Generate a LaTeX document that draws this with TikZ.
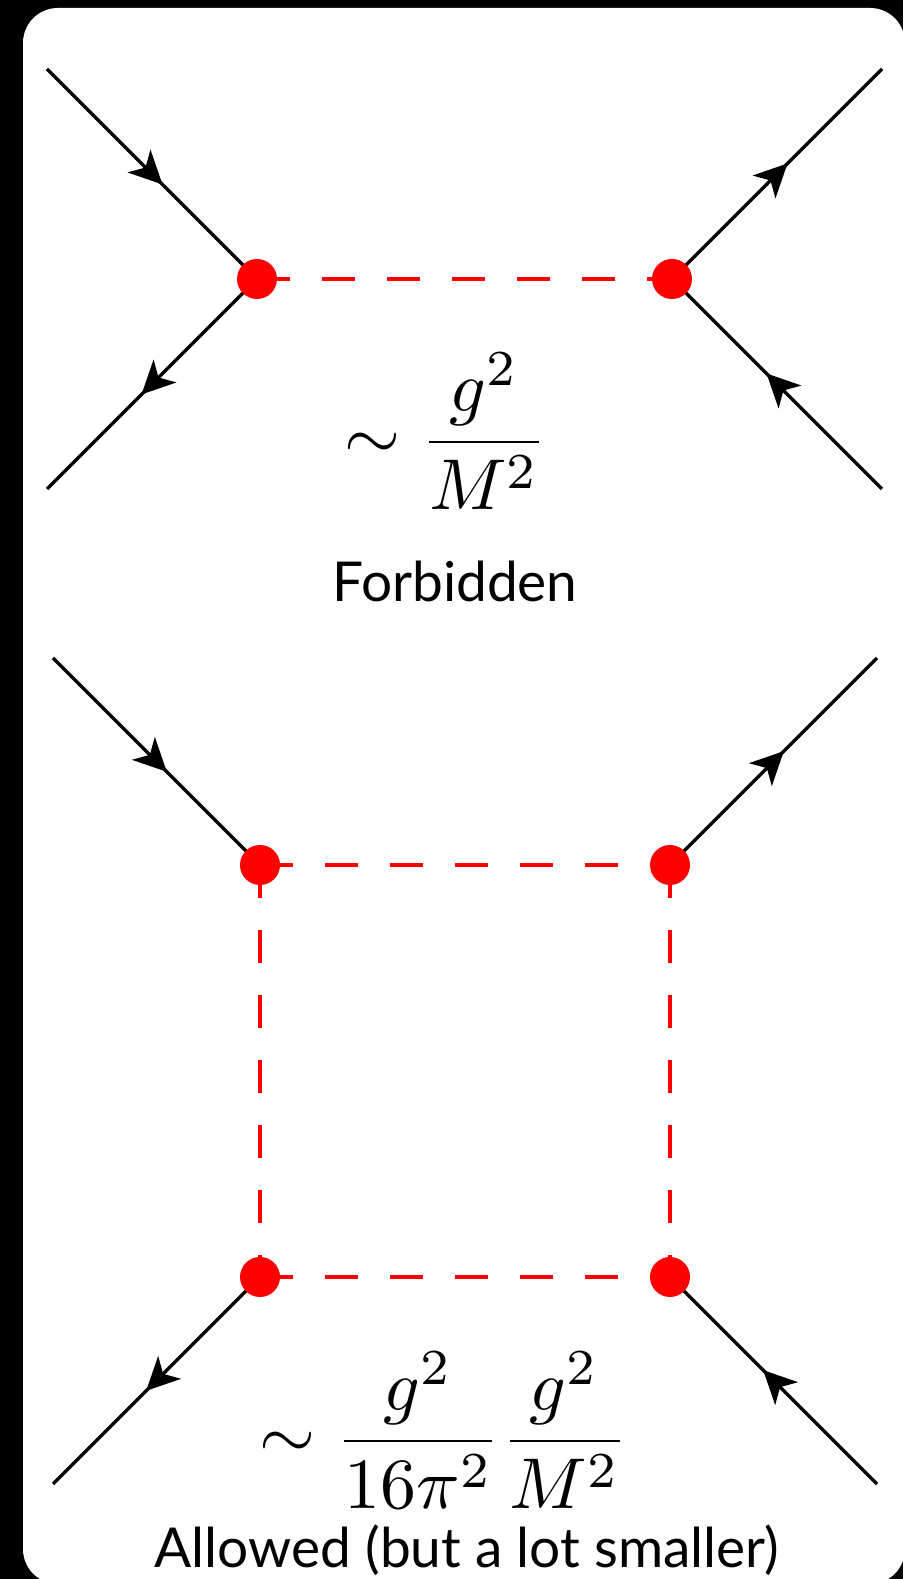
\documentclass[tikz,border=0pt]{standalone}
\usepackage{fontspec}
\newfontfamily\slidefont{Lato}
\usetikzlibrary{arrows.meta,decorations.markings}

\begin{document}
\begin{tikzpicture}[
    x=1pt, y=1pt,
    % propagators
    fermion/.style={draw, line width=3.3pt, postaction={decorate},
        decoration={markings, mark=at position 0.55 with
            {\arrow{Stealth[length=33pt,width=32pt,inset=9pt]}}}},
    scalar/.style={draw, red, line width=3.3pt, dash pattern=on 33pt off 32pt},
    vertex/.style={circle, fill=red, minimum size=40pt, inner sep=0pt},
    % texts
    formula/.style={anchor=base, inner sep=0pt},
    caption/.style={anchor=base, inner sep=0pt,
        font=\slidefont\fontsize{55}{60}\selectfont},
]

% slide background
\useasboundingbox (0,0) rectangle (903,1579);
\fill[black] (0,0) rectangle (903,1579);
\begin{scope}
\clip (0,0) rectangle (903,1579);
\fill[white, rounded corners=35pt] (23,-5) rectangle (905,1571);
\end{scope}

% =========================================================
% Top: tree-level exchange
% =========================================================
\begin{scope}[shift={(464.5,1300)}]
% vertices and external legs
\coordinate (vLT) at (-207.5, 0);
\coordinate (vRT) at ( 207.5, 0);
\coordinate (inLT)  at (-417.5,  210);
\coordinate (outLT) at (-417.5, -210);
\coordinate (outRT) at ( 417.5,  210);
\coordinate (inRT)  at ( 417.5, -210);

% legs
\draw[fermion] (inLT) -- (vLT);
\draw[fermion] (vLT) -- (outLT);
\draw[fermion] (inRT) -- (vRT);
\draw[fermion] (vRT) -- (outRT);

% mediator
\draw[scalar] (vLT) -- (vRT);

\node[vertex] (dLT) at (vLT) {};
\node[vertex] (dRT) at (vRT) {};

\node[formula] (ampT) at (-18.5,-181) {\scalebox{7.2}{$\displaystyle\sim \frac{g^2}{M^2}$}};
\node[caption] (capT) at (-9.5,-323) {Forbidden};
\end{scope}

% =========================================================
% Bottom: one-loop box
% =========================================================
\begin{scope}[shift={(465,508)}]
% vertices and external legs
\coordinate (vLT) at (-205,  206);
\coordinate (vRT) at ( 205,  206);
\coordinate (vLB) at (-205, -206);
\coordinate (vRB) at ( 205, -206);
\coordinate (inLT)  at (-412,  413);
\coordinate (outRT) at ( 412,  413);
\coordinate (outLB) at (-412, -413);
\coordinate (inRB)  at ( 412, -413);

% legs
\draw[fermion] (inLT) -- (vLT);
\draw[fermion] (vRT) -- (outRT);
\draw[fermion] (vLB) -- (outLB);
\draw[fermion] (inRB) -- (vRB);

% loop
\draw[scalar] (vLT) -- (vRT);
\draw[scalar] (vLT) -- (vLB);
\draw[scalar] (vRT) -- (vRB);
\draw[scalar] (vLB) -- (vRB);

\node[vertex] (dLT) at (vLT) {};
\node[vertex] (dRT) at (vRT) {};
\node[vertex] (dLB) at (vLB) {};
\node[vertex] (dRB) at (vRB) {};

\node[formula] (ampB) at (-21,-388) {\scalebox{7.2}{$\displaystyle\sim \frac{g^2}{16\pi^2}\frac{g^2}{M^2}$}};
\node[caption] (capB) at (2,-497) {Allowed (but a lot smaller)};
\end{scope}

\end{tikzpicture}
\end{document}
